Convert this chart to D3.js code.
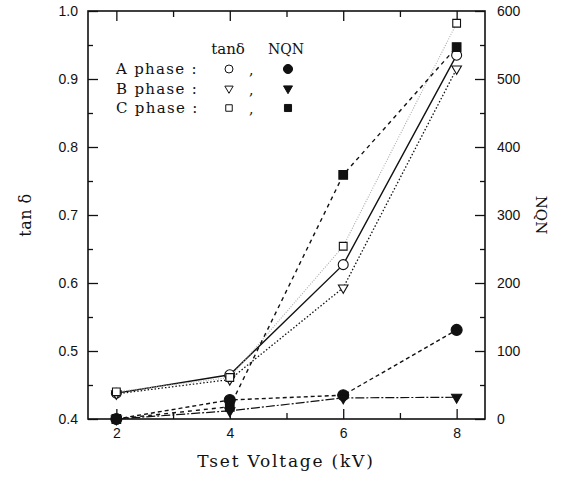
<!DOCTYPE html>
<html><head><meta charset="utf-8">
<script src="https://cdn.jsdelivr.net/npm/d3@7"></script>
<style>
body{margin:0;background:#fff;}
svg{display:block;}
.tick text{font-family:"Liberation Sans",Arial,sans-serif;font-size:14px;fill:#111;}
.serif{font-family:"DejaVu Serif",serif;fill:#111;}
</style></head>
<body>
<svg id="c" width="566" height="491"></svg>
<script>
// ---- data ----
const voltages = [2, 4, 6, 8];
const tanA = [0.438, 0.465, 0.627, 0.935];
const tanB = [0.437, 0.458, 0.593, 0.915];
const tanC = [0.440, 0.461, 0.654, 0.982];
const nqnA = [0, 28, 35, 131];
const nqnB = [0, 12, 31, 32];
const nqnC = [0, 18, 359, 547];
const xTicks = [2, 4, 6, 8];
const xMinor = [3, 5, 7];
const leftTicks = [0.4, 0.5, 0.6, 0.7, 0.8, 0.9, 1.0];
const leftMinor = [0.45, 0.55, 0.65, 0.75, 0.85, 0.95];
const rightTicks = [0, 100, 200, 300, 400, 500, 600];
const rightMinor = [50, 150, 250, 350, 450, 550];
const legendRows = ["A phase :", "B phase :", "C phase :"];

const svg = d3.select("#c");
const L = 88, R = 485, T = 11, B = 419;
const x = d3.scaleLinear().domain([1.5, 8.5]).range([L, R]);
const yL = d3.scaleLinear().domain([0.4, 1.0]).range([B, T]);
const yR = d3.scaleLinear().domain([0, 600]).range([B, T]);

function styleAxis(g){ g.select(".domain").remove(); g.selectAll(".tick line").attr("stroke","#111").attr("stroke-width",1.3); }

svg.append("g").attr("transform",`translate(0,${B})`)
  .call(d3.axisBottom(x).tickValues(xTicks).tickFormat(d3.format("d")).tickSize(-10).tickPadding(9)).call(styleAxis);
svg.append("g").attr("transform",`translate(0,${B})`)
  .call(d3.axisBottom(x).tickValues(xMinor).tickFormat("").tickSize(-6)).call(styleAxis);
svg.append("g").attr("transform",`translate(0,${T})`)
  .call(d3.axisTop(x).tickValues(xTicks).tickFormat("").tickSize(-10)).call(styleAxis);
svg.append("g").attr("transform",`translate(0,${T})`)
  .call(d3.axisTop(x).tickValues(xMinor).tickFormat("").tickSize(-6)).call(styleAxis);
svg.append("g").attr("transform",`translate(${L},0)`)
  .call(d3.axisLeft(yL).tickValues(leftTicks).tickFormat(d3.format(".1f")).tickSize(-10).tickPadding(10)).call(styleAxis);
svg.append("g").attr("transform",`translate(${L},0)`)
  .call(d3.axisLeft(yL).tickValues(leftMinor).tickFormat("").tickSize(-5)).call(styleAxis);
svg.append("g").attr("transform",`translate(${R},0)`)
  .call(d3.axisRight(yR).tickValues(rightTicks).tickFormat(d3.format("d")).tickSize(-10).tickPadding(12)).call(styleAxis);
svg.append("g").attr("transform",`translate(${R},0)`)
  .call(d3.axisRight(yR).tickValues(rightMinor).tickFormat("").tickSize(-5)).call(styleAxis);

svg.append("rect").attr("x",L).attr("y",T).attr("width",R-L).attr("height",B-T)
  .attr("fill","none").attr("stroke","#111").attr("stroke-width",1.6);

const series = [
  {vals: tanA, y: yL, dash: null, color:"#111", w:1.4, sym:"circle", fill:false, size:78},
  {vals: tanB, y: yL, dash: "1.5,2", color:"#111", w:1.3, sym:"tri", fill:false, size:40},
  {vals: tanC, y: yL, dash: "1,1.5", color:"#aaa", w:1.1, sym:"square", fill:false, size:60},
  {vals: nqnA, y: yR, dash: "4,3", color:"#111", w:1.4, sym:"circle", fill:true, size:95},
  {vals: nqnB, y: yR, dash: "9,2,2,2", color:"#111", w:1.2, sym:"tri", fill:true, size:45},
  {vals: nqnC, y: yR, dash: "4,4", color:"#111", w:1.4, sym:"square", fill:true, size:75}
];
function symPath(s, size){
  const t = s==="circle" ? d3.symbolCircle : s==="square" ? d3.symbolSquare : d3.symbolTriangle;
  return d3.symbol(t, size)();
}
series.forEach(s=>{
  const line = d3.line().x((d,i)=>x(voltages[i])).y(d=>s.y(d));
  svg.append("path").datum(s.vals).attr("d",line).attr("fill","none")
    .attr("stroke",s.color).attr("stroke-width",s.w).attr("stroke-dasharray",s.dash);
});
series.forEach(s=>{
  svg.append("g").selectAll("path").data(s.vals).join("path")
    .attr("d",symPath(s.sym, s.size))
    .attr("transform",(d,i)=>`translate(${x(voltages[i])},${s.y(d)})${s.sym==="tri"?" rotate(180)":""}`)
    .attr("fill",s.fill?"#111":"#fff").attr("stroke","#111").attr("stroke-width",1.1);
});

// legend
svg.append("text").attr("class","serif").attr("x",228).attr("y",54).attr("text-anchor","middle")
  .style("font-size","15px").text("tanδ");
svg.append("text").attr("class","serif").attr("x",286).attr("y",54).attr("text-anchor","middle")
  .style("font-size","14px").text("NQN");
const legSyms = ["circle","tri","square"];
const legOpen = [50, 30, 42];
const legFill = [65, 35, 50];
legendRows.forEach((r,i)=>{
  const yy = 69 + i*19.5;
  svg.append("text").attr("class","serif").attr("x",116).attr("y",yy+5)
    .style("font-size","15px").style("letter-spacing","1.3px").text(r);
  svg.append("path").attr("d",symPath(legSyms[i],legOpen[i]))
    .attr("transform",`translate(229,${yy})${legSyms[i]==="tri"?" rotate(180)":""}`)
    .attr("fill","#fff").attr("stroke","#111").attr("stroke-width",1);
  svg.append("text").attr("class","serif").attr("x",249).attr("y",yy+6)
    .style("font-size","14px").text(",");
  svg.append("path").attr("d",symPath(legSyms[i],legFill[i]))
    .attr("transform",`translate(288,${yy})${legSyms[i]==="tri"?" rotate(180)":""}`)
    .attr("fill","#111").attr("stroke","#111").attr("stroke-width",1);
});

// axis titles
svg.append("text").attr("class","serif").attr("transform","translate(31,215) rotate(-90)")
  .attr("text-anchor","middle").style("font-size","16px").style("letter-spacing","0.5px").text("tan δ");
svg.append("text").attr("class","serif").attr("transform","translate(536,215) rotate(90)")
  .attr("text-anchor","middle").style("font-size","15px").text("NQN");
svg.append("text").attr("class","serif").attr("x",286).attr("y",467)
  .attr("text-anchor","middle").style("font-size","17px").style("letter-spacing","1.8px").text("Tset Voltage (kV)");
</script>
</body></html>
